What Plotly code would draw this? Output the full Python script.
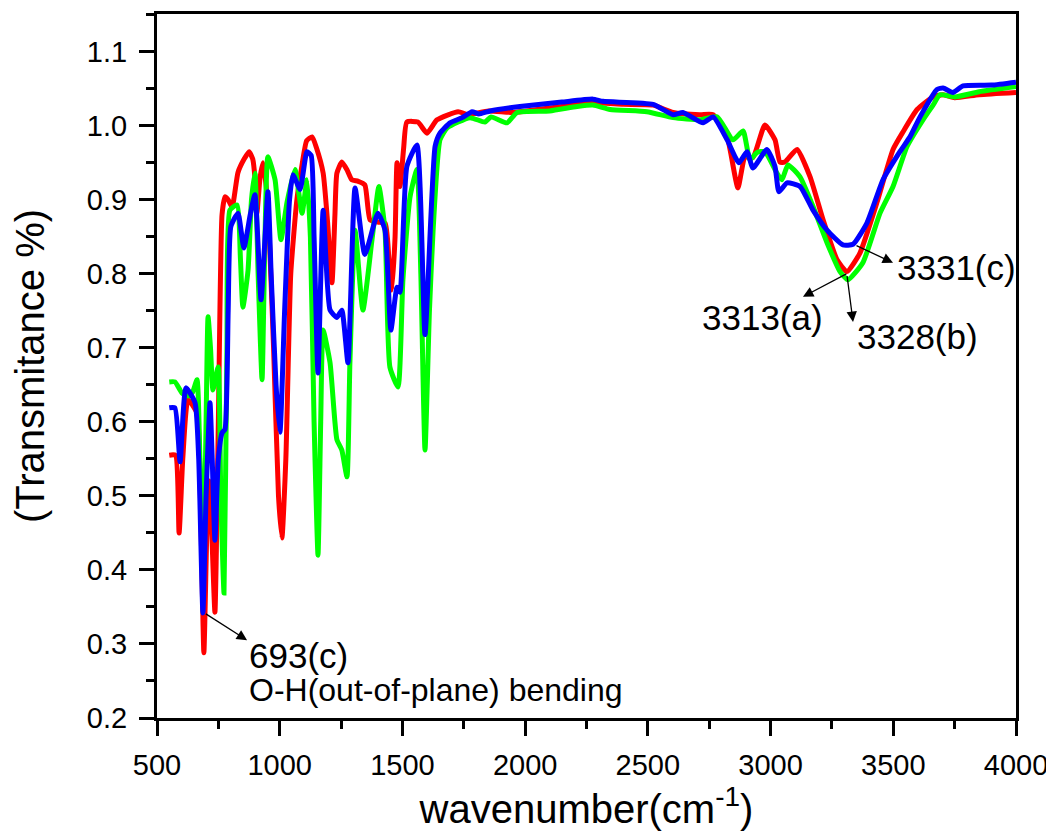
import plotly.graph_objects as go

# --- data (wavenumber cm-1 vs transmittance) ---
x_a = [550, 575, 590, 605, 626, 650, 665, 680, 691, 703, 712, 722, 736, 750, 765, 777, 790, 806,
       830, 855, 875, 890, 899, 907, 920, 932, 950, 975, 995, 1009, 1025, 1045, 1070, 1090, 1110,
       1132, 1150, 1177, 1195, 1213, 1225, 1233, 1253, 1275, 1294, 1320, 1347, 1368, 1400, 1430,
       1445, 1457, 1470, 1478, 1490, 1505, 1518, 1563, 1600, 1641, 1727, 1768, 1850, 1950, 2050,
       2150, 2264, 2400, 2521, 2603, 2712, 2766, 2823, 2867, 2896, 2928, 2977, 3018, 3038, 3058,
       3108, 3161, 3214, 3271, 3311, 3364, 3433, 3499, 3540, 3597, 3662, 3703, 3750, 3850, 4000]
y_a = [0.555, 0.555, 0.45, 0.55, 0.63, 0.62, 0.61, 0.45, 0.288, 0.45, 0.52, 0.46, 0.343, 0.6,
       0.88, 0.904, 0.9, 0.89, 0.937, 0.955, 0.965, 0.955, 0.93, 0.882, 0.93, 0.95, 0.9, 0.7, 0.5,
       0.443, 0.55, 0.8, 0.9, 0.945, 0.98, 0.985, 0.97, 0.936, 0.87, 0.788, 0.88, 0.936, 0.951,
       0.94, 0.927, 0.925, 0.92, 0.873, 0.87, 0.868, 0.82, 0.778, 0.85, 0.95, 0.918, 0.97, 1.005,
       1.005, 0.99, 1.008, 1.019, 1.015, 1.02, 1.018, 1.022, 1.026, 1.031, 1.029, 1.028, 1.018,
       1.015, 1.015, 0.985, 0.916, 0.958, 0.957, 1.001, 0.981, 0.951, 0.951, 0.968, 0.931, 0.873,
       0.819, 0.803, 0.828, 0.896, 0.968, 0.992, 1.022, 1.039, 1.042, 1.038, 1.042, 1.045]

x_b = [550, 573, 602, 626, 645, 663, 675, 690, 700, 708, 718, 728, 749, 760, 773, 785, 797, 826,
       840, 850, 871, 885, 899, 912, 928, 940, 952, 981, 1005, 1030, 1062, 1091, 1111, 1125, 1140,
       1156, 1167, 1177, 1205, 1233, 1253, 1274, 1286, 1307, 1339, 1376, 1404, 1429, 1449, 1482,
       1502, 1531, 1559, 1575, 1592, 1610, 1625, 1653, 1682, 1775, 1836, 1861, 1926, 1967, 2100,
       2211, 2276, 2346, 2496, 2603, 2712, 2782, 2847, 2888, 2916, 2945, 2977, 3026, 3046, 3071,
       3120, 3173, 3230, 3283, 3315, 3376, 3446, 3499, 3556, 3621, 3662, 3690, 3750, 3850, 4000]
y_b = [0.654, 0.654, 0.639, 0.635, 0.64, 0.657, 0.55, 0.42, 0.6, 0.742, 0.7, 0.643, 0.674, 0.5,
       0.369, 0.7, 0.886, 0.893, 0.82, 0.755, 0.805, 0.9, 0.936, 0.8, 0.657, 0.85, 0.958, 0.927,
       0.846, 0.897, 0.941, 0.882, 0.927, 0.85, 0.6, 0.42, 0.6, 0.724, 0.68, 0.576, 0.562, 0.526,
       0.68, 0.859, 0.751, 0.846, 0.918, 0.859, 0.674, 0.647, 0.792, 0.904, 0.941, 0.8, 0.562,
       0.75, 0.859, 0.981, 0.997, 1.011, 1.005, 1.012, 1.004, 1.018, 1.02, 1.026, 1.028, 1.022,
       1.019, 1.011, 1.008, 1.012, 0.981, 0.993, 0.954, 0.964, 0.965, 0.936, 0.927, 0.947, 0.931,
       0.891, 0.842, 0.803, 0.792, 0.815, 0.882, 0.918, 0.972, 1.008, 1.028, 1.042, 1.039, 1.046,
       1.053]

x_c = [550, 573, 594, 618, 655, 670, 687, 700, 716, 725, 736, 750, 765, 777, 790, 801, 830, 854,
       880, 899, 924, 952, 965, 985, 1001, 1020, 1040, 1054, 1083, 1111, 1128, 1140, 1156, 1177,
       1205, 1233, 1253, 1278, 1307, 1347, 1400, 1429, 1453, 1478, 1490, 1518, 1559, 1592, 1633,
       1653, 1694, 1743, 1784, 1812, 1857, 1979, 2150, 2276, 2317, 2521, 2603, 2643, 2725, 2766,
       2823, 2871, 2904, 2928, 2985, 3018, 3034, 3067, 3120, 3173, 3230, 3295, 3336, 3393, 3458,
       3527, 3568, 3609, 3678, 3703, 3743, 3784, 3900, 4000]
y_c = [0.619, 0.619, 0.546, 0.646, 0.626, 0.55, 0.342, 0.5, 0.626, 0.55, 0.44, 0.55, 0.585, 0.59,
       0.75, 0.864, 0.882, 0.835, 0.88, 0.907, 0.765, 0.911, 0.8, 0.65, 0.586, 0.75, 0.9, 0.934,
       0.914, 0.965, 0.96, 0.85, 0.666, 0.886, 0.751, 0.741, 0.751, 0.68, 0.916, 0.826, 0.882,
       0.859, 0.724, 0.782, 0.775, 0.945, 0.974, 0.718, 0.972, 0.99, 1.004, 1.011, 1.019, 1.016,
       1.02, 1.026, 1.032, 1.036, 1.033, 1.029, 1.015, 1.018, 1.004, 1.012, 0.981, 0.95, 0.965,
       0.943, 0.968, 0.945, 0.911, 0.923, 0.918, 0.886, 0.859, 0.839, 0.84, 0.869, 0.927, 0.965,
       0.985, 1.012, 1.049, 1.051, 1.045, 1.054, 1.055, 1.059]

FONT = "Liberation Sans, Arial, sans-serif"

fig = go.Figure()
for xs, ys, col in [(x_a, y_a, "#ff0000"), (x_b, y_b, "#00ff00"), (x_c, y_c, "#0000ff")]:
    fig.add_trace(go.Scatter(
        x=xs, y=ys, mode="lines",
        line=dict(color=col, width=5, shape="spline", smoothing=0.5),
        showlegend=False, hoverinfo="skip"
    ))

# arrows: tail on the band minimum, head next to the label
arrows = [
    (693, 0.342, 867, 0.305),
    (3344, 0.839, 3499, 0.815),
    (3315, 0.801, 3132, 0.769),
    (3311, 0.799, 3336, 0.735),
]
for x0, y0, x1, y1 in arrows:
    fig.add_annotation(x=x1, y=y1, ax=x0, ay=y0, axref="x", ayref="y", text="",
                       showarrow=True, arrowhead=2, arrowsize=1.6, arrowwidth=1.3,
                       arrowcolor="black")

labels = [
    ("693(c)", 868, 0.285, 35),
    ("O-H(out-of-plane) bending", 868, 0.238, 32),
    ("3331(c)", 3505, 0.809, 35),
    ("3313(a)", 2714, 0.741, 35),
    ("3328(b)", 3344, 0.715, 35),
]
for txt, lx, ly, fs in labels:
    fig.add_annotation(x=lx, y=ly, text=txt, showarrow=False, xanchor="left",
                       yanchor="middle", font=dict(family=FONT, size=fs, color="black"))

# page body has an 8px margin, so the figure is 8px smaller and margins shifted
fig.update_layout(
    width=1046, height=830,
    margin=dict(l=149, r=38, t=6, b=120),
    plot_bgcolor="white", paper_bgcolor="white",
    font=dict(family=FONT, color="black"),
    xaxis=dict(
        range=[500, 4000], tick0=500, dtick=500, ticks="outside", ticklen=15, tickwidth=3,
        tickcolor="black", showline=True, linecolor="black", linewidth=3, mirror=True,
        showgrid=False, zeroline=False, tickfont=dict(size=29), ticklabelstandoff=4,
        automargin=False,
        minor=dict(ticks="outside", dtick=250, ticklen=8, tickwidth=3, tickcolor="black"),
        title=dict(text="wavenumber(cm<sup>-1</sup>)", font=dict(size=40), standoff=8),
    ),
    yaxis=dict(
        range=[0.2, 1.151], tick0=0.2, dtick=0.1, tickformat=".1f", ticks="outside",
        ticklen=15, tickwidth=3, tickcolor="black", showline=True, linecolor="black",
        linewidth=3, mirror=True, showgrid=False, zeroline=False, tickfont=dict(size=29),
        ticklabelstandoff=6, automargin=False,
        minor=dict(ticks="outside", dtick=0.05, ticklen=8, tickwidth=3, tickcolor="black"),
        title=dict(text="(Transmitance %)", font=dict(size=40), standoff=38),
    ),
    xaxis2=dict(overlaying="x", side="top", anchor="y", range=[500, 4000], tick0=500,
                dtick=250, ticks="outside", ticklen=5, tickwidth=2, tickcolor="black",
                showticklabels=False, showgrid=False, zeroline=False, automargin=False),
    yaxis2=dict(overlaying="y", side="right", anchor="x", range=[0.2, 1.151], tick0=0.2,
                dtick=0.05, ticks="outside", ticklen=5, tickwidth=2, tickcolor="black",
                showticklabels=False, showgrid=False, zeroline=False, automargin=False),
)

fig.write_html("out.html")
